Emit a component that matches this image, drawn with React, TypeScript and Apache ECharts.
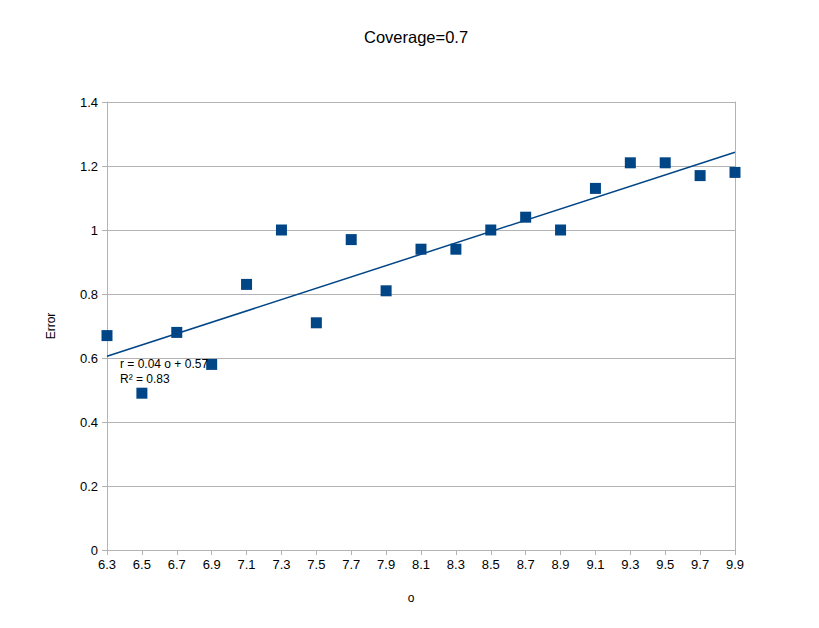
import React, { useEffect, useRef } from "react";
import * as echarts from "echarts";

const titleText = "Coverage=0.7";
const xValues = [6.3, 6.5, 6.7, 6.9, 7.1, 7.3, 7.5, 7.7, 7.9, 8.1, 8.3, 8.5, 8.7, 8.9, 9.1, 9.3, 9.5, 9.7, 9.9];
const errorValues = [0.67, 0.49, 0.68, 0.58, 0.83, 1.0, 0.71, 0.97, 0.81, 0.94, 0.94, 1.0, 1.04, 1.0, 1.13, 1.21, 1.21, 1.17, 1.18];
const xTicks = [6.3, 6.5, 6.7, 6.9, 7.1, 7.3, 7.5, 7.7, 7.9, 8.1, 8.3, 8.5, 8.7, 8.9, 9.1, 9.3, 9.5, 9.7, 9.9];
const trendLabel1 = "r = 0.04 o + 0.57";
const trendLabel2 = "R² = 0.83";

function linearFit(xs: number[], ys: number[]) {
  const n = xs.length;
  const mx = xs.reduce((a, b) => a + b, 0) / n;
  const my = ys.reduce((a, b) => a + b, 0) / n;
  let sxy = 0, sxx = 0;
  for (let i = 0; i < n; i++) {
    sxy += (xs[i] - mx) * (ys[i] - my);
    sxx += (xs[i] - mx) * (xs[i] - mx);
  }
  const slope = sxy / sxx;
  return { slope, intercept: my - slope * mx };
}

export default function App() {
  const ref = useRef<HTMLDivElement>(null);
  useEffect(() => {
    if (!ref.current) return;
    const chart = echarts.init(ref.current, undefined, { renderer: "svg" });
    const fit = linearFit(xValues, errorValues);
    const x0 = xValues[0];
    const x1 = xValues[xValues.length - 1];
    const trend = [
      [x0, fit.intercept + fit.slope * x0],
      [x1, fit.intercept + fit.slope * x1],
    ];
    const font = "'Liberation Sans', Arial, sans-serif";
    const gray = "#b3b3b3";
    chart.setOption({
      animation: false,
      textStyle: { fontFamily: font },
      title: {
        text: titleText,
        left: 351,
        top: 15,
        textStyle: { fontSize: 16.5, fontWeight: "normal", color: "#000", fontFamily: font },
      },
      grid: { left: 99, right: 92, top: 94, bottom: 86, containLabel: false },
      xAxis: {
        type: "value",
        min: 6.3,
        max: 9.9,
        name: "o",
        nameLocation: "middle",
        nameGap: 42,
        nameTextStyle: { fontSize: 12, color: "#000", padding: [0, 20, 0, 0] },
        axisLine: { show: true, onZero: false, lineStyle: { color: gray } },
        axisTick: { show: true, length: 5, lineStyle: { color: gray }, customValues: xTicks },
        axisLabel: {
          fontSize: 13,
          color: "#000",
          margin: 8,
          customValues: xTicks,
          formatter: (v: number) => v.toFixed(1),
        },
        splitLine: { show: false },
      },
      yAxis: [
        {
          type: "value",
          min: 0,
          max: 1.4,
          interval: 0.2,
          name: "Error",
          nameLocation: "middle",
          nameGap: 50,
          nameRotate: 90,
          nameTextStyle: { fontSize: 12, color: "#000" },
          axisLine: { show: true, lineStyle: { color: gray } },
          axisTick: { show: true, length: 5, lineStyle: { color: gray } },
          axisLabel: {
            fontSize: 13,
            color: "#000",
            margin: 9,
            formatter: (v: number) => String(Math.round(v * 10) / 10),
          },
          splitLine: { show: true, lineStyle: { color: gray, width: 1 } },
        },
        {
          type: "value",
          min: 0,
          max: 1.4,
          interval: 0.2,
          position: "right",
          axisLine: { show: true, lineStyle: { color: gray } },
          axisTick: { show: false },
          axisLabel: { show: false },
          splitLine: { show: false },
        },
      ],
      series: [
        {
          type: "line",
          data: trend,
          showSymbol: false,
          symbol: "none",
          lineStyle: { color: "#004586", width: 1.5 },
          z: 3,
        },
        {
          type: "scatter",
          data: xValues.map((x, i) => [x, errorValues[i]]),
          symbol: "rect",
          symbolSize: 11,
          itemStyle: { color: "#004586", opacity: 1 },
          z: 2,
        },
      ],
      graphic: [
        {
          type: "text",
          left: 112,
          top: 350,
          style: { text: trendLabel1, fontSize: 12, fill: "#000", fontFamily: font },
          z: 10,
        },
        {
          type: "text",
          left: 112,
          top: 365,
          style: { text: trendLabel2, fontSize: 12, fill: "#000", fontFamily: font },
          z: 10,
        },
      ],
    });
    return () => chart.dispose();
  }, []);
  return <div ref={ref} style={{ width: 819, height: 628 }} />;
}
